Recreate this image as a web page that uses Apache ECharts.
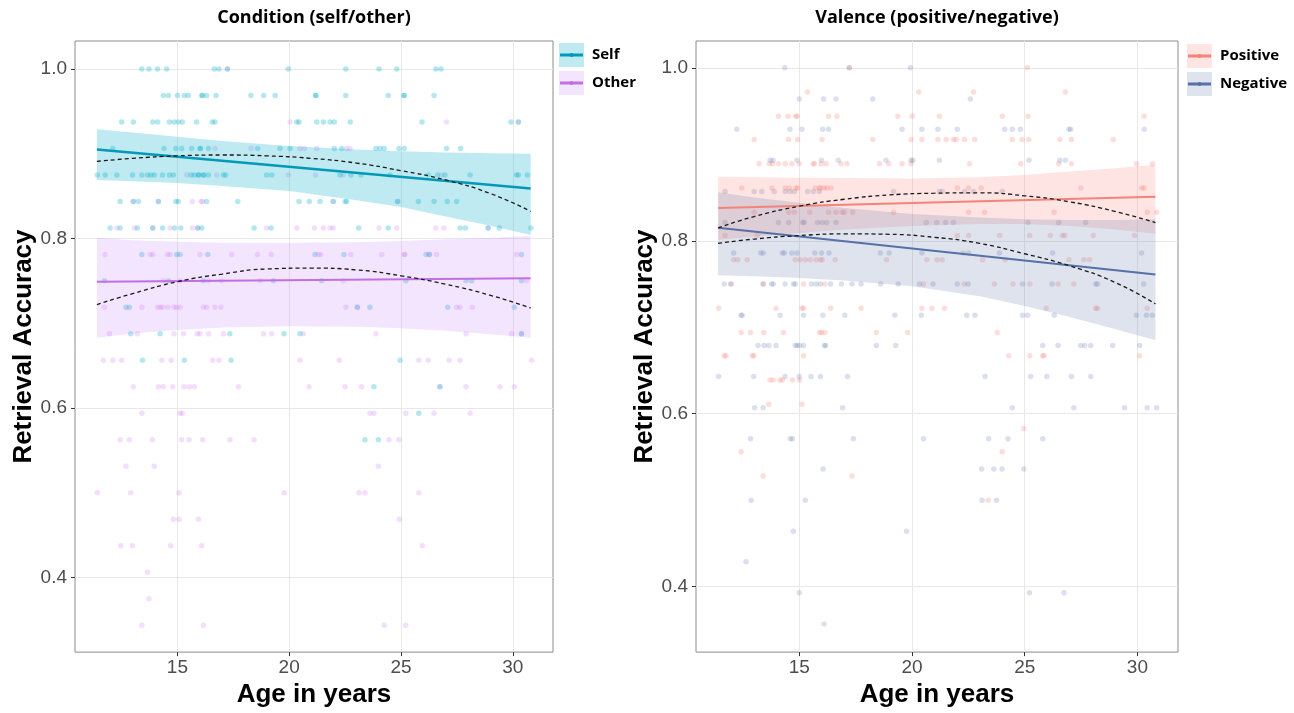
<!DOCTYPE html>
<html>
<head>
<meta charset="utf-8">
<script src="https://cdn.jsdelivr.net/npm/echarts@6/dist/echarts.min.js"></script>
<style>
html,body{margin:0;padding:0;background:#fff;}
#container{width:1294px;height:713px;}
</style>
</head>
<body>
<div id="container"></div>
<script>
// tick labels
var xTicks = [15, 20, 25, 30];
var yTicks = [0.4, 0.6, 0.8, 1.0];

// scatter rows: [accuracy, [ages...]]
var selfRows = [
  [1.0, [13.41, 13.73, 14.11, 14.52, 16.65, 16.86, 17.24, 19.96, 22.53, 24.02, 24.81, 26.56, 26.79]],
  [0.96875, [14.37, 14.6, 15.0, 15.31, 15.49, 16.09, 16.12, 16.31, 16.73, 18.29, 18.86, 19.37, 21.18, 21.2, 22.53, 24.43, 25.13, 25.15, 26.48]],
  [0.9375, [12.51, 13.03, 13.9, 14.12, 14.64, 14.85, 15.04, 15.22, 15.86, 16.56, 16.68, 20.34, 20.44, 21.23, 21.53, 21.83, 22.02, 22.73, 25.94, 29.92, 30.25]],
  [0.90625, [12.11, 14.4, 14.93, 15.19, 15.64, 16.01, 16.03, 16.39, 18.59, 19.59, 20.04, 22.02, 22.35, 23.88, 24.06, 24.25, 24.91, 25.15, 27.04, 27.67]],
  [0.875, [11.42, 11.77, 12.29, 12.99, 13.41, 13.67, 13.82, 13.97, 14.33, 14.64, 14.82, 15.61, 15.76, 15.94, 15.96, 16.16, 16.18, 16.39, 17.06, 17.16, 18.99, 19.22, 22.27, 22.76, 23.21, 24.51, 26.22, 26.64, 26.97, 28.09, 30.17, 30.25, 30.65]],
  [0.84375, [12.44, 13.03, 13.26, 14.15, 14.93, 15.04, 16.31, 17.7, 20.44, 20.9, 21.38, 21.97, 22.5, 22.57, 24.85, 25.78, 26.48, 27.07, 27.49]],
  [0.8125, [11.99, 12.44, 13.21, 13.9, 14.34, 14.87, 15.15, 15.91, 16.09, 18.43, 19.19, 23.11, 24.43, 27.65, 27.89, 28.9, 29.4, 30.81]],
  [0.78125, [13.41, 14.97, 15.12, 16.36, 21.15, 22.45, 26.12, 26.27, 30.39]],
  [0.75, [11.74, 14.6, 16.16, 19.29, 21.45, 25.22, 27.91, 28.16, 30.39]],
  [0.71875, [12.7, 12.85, 23.05, 23.61, 27.09, 30.07]],
  [0.6875, [12.91, 14.23, 17.35, 19.77, 20.48, 30.39]],
  [0.65625, [13.44, 15.31, 17.4, 24.96]],
  [0.625, [23.79, 26.74]],
  [0.59375, [25.8]],
  [0.5625, [23.39, 23.99]]
];
var otherRows = [
  [1.0, [17.24]],
  [0.9375, [20.04, 27.04, 30.25]],
  [0.90625, [16.68, 18.29, 20.48, 20.68, 21.23, 22.57, 22.72]],
  [0.875, [15.42, 16.76, 19.96, 21.18, 22.42, 26.82]],
  [0.84375, [13.03, 14.15, 15.67, 16.06, 16.12, 21.97, 24.85]],
  [0.8125, [12.29, 13.08, 13.9, 14.67, 15.67, 15.91, 18.99, 20.34, 21.13, 21.53, 21.83, 21.97, 24.02, 24.81, 26.56, 26.92, 28.9]],
  [0.78125, [11.77, 13.78, 13.9, 14.55, 14.67, 16.01, 17.43, 18.58, 19.19, 21.3, 21.41, 22.76, 24.14, 25.15, 25.17, 26.27, 26.59, 30.17]],
  [0.75, [14.37, 15.12, 16.39, 16.98, 18.7, 22.42, 30.62]],
  [0.71875, [11.74, 13.41, 14.11, 14.23, 14.34, 14.57, 14.85, 14.97, 15.12, 16.16, 16.31, 16.68, 16.95, 22.54, 23.05, 27.49, 27.64, 28.19]],
  [0.6875, [11.96, 13.21, 14.85, 15.27, 15.89, 16.01, 16.39, 17.06, 18.85, 19.22, 20.63, 23.88, 27.91, 29.95, 30.39]],
  [0.65625, [11.69, 12.11, 12.51, 14.3, 14.72, 16.58, 16.86, 20.48, 22.24, 25.8, 26.22, 27.15, 27.64, 30.84]],
  [0.625, [13.03, 14.15, 14.37, 14.79, 15.3, 15.54, 15.76, 17.73, 20.89, 22.5, 23.24, 26.74, 27.91, 29.43, 30.07]],
  [0.59375, [13.41, 15.12, 15.22, 23.61, 23.79, 25.22, 26.48, 28.09]],
  [0.5625, [12.44, 12.85, 13.88, 15.19, 15.52, 16.13, 17.35, 18.43, 24.46, 24.91]],
  [0.53125, [12.7, 13.96, 23.99]],
  [0.5, [11.42, 12.91, 15.07, 19.78, 23.12, 23.39, 25.8]],
  [0.46875, [14.82, 15.07, 15.94, 24.93]],
  [0.4375, [12.47, 12.99, 14.7, 16.09, 25.95]],
  [0.40625, [13.66]],
  [0.375, [13.73]],
  [0.34375, [13.41, 16.16, 24.25, 25.21]]
];
var positiveRows = [
  [1.0, [17.22, 25.12]],
  [0.972, [15.37, 20.3, 22.73, 26.81]],
  [0.944, [14.08, 14.5, 14.85, 14.9, 16.3, 16.67, 19.37, 20.01, 21.22, 24.01, 25.15, 30.3]],
  [0.917, [13.0, 14.53, 14.93, 16.01, 18.26, 19.96, 20.44, 21.15, 21.52, 21.84, 21.96, 22.33, 22.78, 24.45, 24.88, 25.18, 26.56, 27.07, 28.93]],
  [0.889, [13.22, 13.67, 13.81, 14.08, 14.38, 14.67, 15.0, 15.62, 15.67, 15.96, 16.19, 16.85, 17.12, 18.56, 18.97, 19.56, 19.96, 22.56, 24.82, 26.51, 27.07, 29.96, 30.67]],
  [0.861, [12.45, 13.79, 14.38, 14.56, 14.85, 14.93, 15.71, 15.89, 15.96, 16.11, 16.23, 16.41, 22.01, 22.51, 23.07, 27.49, 30.19, 30.29]],
  [0.833, [13.0, 14.53, 14.78, 15.47, 16.3, 16.63, 16.9, 17.0, 17.37, 19.18, 22.51, 23.22, 26.3, 30.44, 30.85]],
  [0.806, [11.71, 13.14, 22.01, 22.51, 23.89, 25.22, 26.14, 26.67, 26.78, 28.04, 29.87]],
  [0.778, [12.09, 12.27, 12.69, 14.82, 15.04, 15.27, 15.49, 15.75, 15.94, 16.02, 16.59, 18.87, 20.66, 21.11, 21.34, 23.13, 24.14, 26.96, 27.63, 27.88]],
  [0.75, [11.97, 13.4, 15.19, 16.14, 20.51, 22.31, 23.66, 24.48, 25.23, 26.48, 27.18]],
  [0.722, [11.42, 13.97, 15.12, 15.19, 16.39, 17.74, 20.44, 20.89, 21.44, 25.95, 28.15, 28.23, 30.43]],
  [0.694, [12.42, 12.84, 13.43, 14.3, 15.9, 15.99, 16.14, 18.42, 19.81, 23.78]],
  [0.667, [11.67, 11.75, 12.92, 12.99, 15.19, 24.29, 25.23, 25.8, 25.86, 30.1]],
  [0.639, [13.7, 13.85, 14.15, 14.25, 14.7, 15.01]],
  [0.611, [13.65, 15.12]],
  [0.583, [24.96]],
  [0.556, [12.42, 24.0]],
  [0.528, [13.4, 17.34]],
  [0.5, [23.38]]
];
var negativeRows = [
  [1.0, [14.36, 17.22, 19.93]],
  [0.964, [15.0, 16.08, 16.63, 18.26, 22.59]],
  [0.929, [12.23, 14.59, 15.12, 16.04, 16.3, 19.56, 20.44, 21.15, 22.01, 24.11, 24.45, 24.81, 26.96, 27.04, 30.3]],
  [0.893, [13.71, 13.84, 14.9, 15.99, 16.73, 18.85, 19.96, 20.04, 21.22, 25.19, 26.56, 26.81]],
  [0.857, [11.71, 13.0, 13.34, 13.89, 14.38, 14.59, 14.78, 15.37, 15.62, 15.89, 19.18, 21.22, 21.34, 22.33, 22.73, 24.01]],
  [0.821, [11.71, 14.08, 14.53, 15.15, 15.22, 15.81, 16.01, 16.21, 16.63, 20.63, 21.1, 21.49, 21.84, 25.15, 26.51, 27.7]],
  [0.786, [12.09, 13.29, 13.4, 14.25, 14.34, 14.67, 14.9, 15.69, 15.99, 16.32, 18.6, 18.99, 20.44, 22.27, 22.51, 23.88, 26.24, 30.18]],
  [0.75, [11.67, 11.97, 13.4, 13.77, 13.85, 14.37, 14.75, 14.82, 15.54, 15.75, 15.94, 16.39, 16.87, 17.34, 17.74, 18.61, 19.39, 20.33, 20.93, 22.01, 22.49, 24.9, 26.21, 28.15, 28.23, 30.28]],
  [0.714, [12.42, 12.47, 14.15, 15.19, 16.05, 17.02, 19.24, 20.41, 22.43, 22.79, 24.9, 25.13, 26.31, 29.95, 30.4, 30.66]],
  [0.679, [13.17, 13.44, 13.65, 13.97, 14.82, 14.9, 15.01, 15.19, 16.12, 16.17, 18.42, 19.28, 25.8, 26.48, 27.48, 27.66, 27.93, 28.9, 30.1]],
  [0.643, [11.42, 12.98, 14.37, 15.0, 15.52, 15.94, 17.14, 23.24, 25.26, 25.98, 27.07, 27.93]],
  [0.607, [13.02, 13.4, 16.92, 24.45, 27.18, 29.43, 30.43, 30.85]],
  [0.571, [12.84, 14.6, 14.7, 17.4, 20.51, 23.4, 24.26, 25.8]],
  [0.536, [16.06, 23.09, 23.63, 24.0, 24.96]],
  [0.5, [12.87, 15.27, 23.11, 23.75]],
  [0.464, [14.74, 19.76]],
  [0.429, [12.64]],
  [0.393, [15.0, 25.21, 26.74]],
  [0.357, [16.1]]
];

// linear fits (end points)
var fitAges = [11.4, 30.8];
var selfFit = [0.905, 0.859];
var otherFit = [0.749, 0.753];
var positiveFit = [0.838, 0.851];
var negativeFit = [0.815, 0.761];

// quadratic fits (dashed)
var curveAges = [11.4, 13, 15, 17, 19, 21, 23, 25, 27, 29, 30.8];
var selfQuad = [0.891, 0.8945, 0.8975, 0.8985, 0.8975, 0.8945, 0.889, 0.880, 0.869, 0.853, 0.832];
var otherQuad = [0.722, 0.735, 0.749, 0.758, 0.764, 0.765, 0.763, 0.756, 0.746, 0.733, 0.718];
var positiveQuad = [0.815, 0.828, 0.840, 0.848, 0.853, 0.855, 0.8555, 0.852, 0.845, 0.834, 0.821];
var negativeQuad = [0.797, 0.802, 0.806, 0.808, 0.8075, 0.804, 0.797, 0.785, 0.771, 0.752, 0.727];

// confidence bands
var bandAges = [11.4, 13, 15, 17, 20, 23, 25, 27, 29, 30.8];
var selfUpper = [0.929, 0.925, 0.920, 0.915, 0.909, 0.905, 0.903, 0.9015, 0.9005, 0.900];
var selfLower = [0.869, 0.8675, 0.8655, 0.862, 0.856, 0.845, 0.837, 0.826, 0.815, 0.804];
var otherUpper = [0.801, 0.798, 0.796, 0.795, 0.795, 0.7955, 0.797, 0.799, 0.801, 0.803];
var otherLower = [0.683, 0.688, 0.692, 0.695, 0.6965, 0.696, 0.694, 0.691, 0.687, 0.683];
var positiveUpper = [0.874, 0.8735, 0.873, 0.8725, 0.872, 0.8735, 0.876, 0.880, 0.884, 0.888];
var positiveLower = [0.801, 0.805, 0.809, 0.813, 0.817, 0.8195, 0.8195, 0.817, 0.813, 0.808];
var negativeUpper = [0.856, 0.850, 0.844, 0.838, 0.831, 0.827, 0.825, 0.824, 0.824, 0.825];
var negativeLower = [0.760, 0.759, 0.757, 0.754, 0.7475, 0.736, 0.7245, 0.712, 0.698, 0.685];

var myChart = echarts.init(document.getElementById('container'));

function rowsToPoints(rows) {
  var out = [];
  rows.forEach(function (r) {
    r[1].forEach(function (a) { out.push([a, r[0]]); });
  });
  return out;
}
function pairs(xs, ys) {
  return xs.map(function (x, i) { return [x, ys[i]]; });
}

function scatter(idx, rows, color) {
  return {
    type: 'scatter', xAxisIndex: idx, yAxisIndex: idx, z: 1, silent: true,
    symbolSize: 5.5, itemStyle: { color: color }, data: rowsToPoints(rows)
  };
}
function band(idx, up, lo, color) {
  return {
    type: 'custom', xAxisIndex: idx, yAxisIndex: idx, z: 2, silent: true,
    data: [[bandAges[0], up[0]]],
    renderItem: function (params, api) {
      var pts = [];
      for (var i = 0; i < bandAges.length; i++) pts.push(api.coord([bandAges[i], up[i]]));
      for (var j = bandAges.length - 1; j >= 0; j--) pts.push(api.coord([bandAges[j], lo[j]]));
      return { type: 'polygon', shape: { points: pts }, style: { fill: color } };
    }
  };
}
function fitLine(idx, vals, color, w) {
  return {
    type: 'line', xAxisIndex: idx, yAxisIndex: idx, z: 3, silent: true,
    showSymbol: false, data: pairs(fitAges, vals),
    lineStyle: { color: color, width: w }
  };
}
function quadLine(idx, vals) {
  return {
    type: 'line', xAxisIndex: idx, yAxisIndex: idx, z: 4, silent: true,
    showSymbol: false, smooth: true, data: pairs(curveAges, vals),
    lineStyle: { color: '#1a1a1a', width: 1.3, type: [4, 3] }
  };
}

var tickFont = { fontSize: 19, color: '#4d4d4d', fontFamily: 'Liberation Sans' };
var nameFont = { fontSize: 26, fontWeight: 'bold', color: '#000', fontFamily: 'Liberation Sans' };

function xAxis(idx) {
  return {
    gridIndex: idx, type: 'value', min: 10.42, max: 31.8,
    name: 'Age in years', nameLocation: 'middle', nameGap: 23, nameTextStyle: nameFont,
    axisLine: { show: false },
    axisTick: { show: true, length: 4, customValues: xTicks, lineStyle: { color: '#333' } },
    axisLabel: Object.assign({ customValues: xTicks, margin: 6 }, tickFont),
    splitLine: { show: true, lineStyle: { color: '#e8e8e8', width: 1 } }
  };
}
function yAxis(idx, min, max, gap) {
  return {
    gridIndex: idx, type: 'value', min: min, max: max,
    name: 'Retrieval Accuracy', nameLocation: 'middle', nameGap: gap, nameTextStyle: nameFont,
    axisLine: { show: false },
    axisTick: { show: true, length: 4, customValues: yTicks, lineStyle: { color: '#333' } },
    axisLabel: Object.assign({ customValues: yTicks, margin: 8,
      formatter: function (v) { return v.toFixed(1); } }, tickFont),
    splitLine: { show: true, lineStyle: { color: '#e8e8e8', width: 1 } }
  };
}

function legendKey(x, y, fill, line, label) {
  return [
    { type: 'rect', shape: { x: x, y: y, width: 25, height: 24 }, style: { fill: fill } },
    { type: 'line', shape: { x1: x + 1, y1: y + 12, x2: x + 24, y2: y + 12 }, style: { stroke: line, lineWidth: 3 } },
    { type: 'circle', shape: { cx: x + 12.5, cy: y + 12, r: 2 }, style: { fill: line } },
    { type: 'text', x: x + 33, y: y + 12, style: { text: label, fill: '#000',
      font: 'bold 15px "Open Sans"', textVerticalAlign: 'middle' } }
  ];
}
var titleFont = 'bold 18px "Open Sans"';

myChart.setOption({
  animation: false,
  backgroundColor: '#fff',
  grid: [
    { left: 75, top: 41, width: 478, height: 616, show: true, borderColor: '#8c8c8c', borderWidth: 1, backgroundColor: 'transparent' },
    { left: 696, top: 41, width: 482, height: 617, show: true, borderColor: '#8c8c8c', borderWidth: 1, backgroundColor: 'transparent' }
  ],
  xAxis: [xAxis(0), xAxis(1)],
  yAxis: [yAxis(0, 0.312, 1.033, 25), yAxis(1, 0.3244, 1.031, 28)],
  graphic: [
    { type: 'text', x: 314, y: 18, style: { text: 'Condition (self/other)', font: titleFont, fill: '#000', textAlign: 'center', textVerticalAlign: 'middle' } },
    { type: 'text', x: 937, y: 18, style: { text: 'Valence (positive/negative)', font: titleFont, fill: '#000', textAlign: 'center', textVerticalAlign: 'middle' } }
  ].concat(
    legendKey(559, 43, 'rgba(0,172,200,0.25)', '#0099b8', 'Self'),
    legendKey(559, 71, 'rgba(199,124,255,0.2)', '#c070e0', 'Other'),
    legendKey(1187, 44, 'rgba(248,118,109,0.2)', '#f4837a', 'Positive'),
    legendKey(1187, 72, 'rgba(90,115,170,0.2)', '#5670a8', 'Negative')
  ),
  series: [
    scatter(0, otherRows, 'rgba(200,110,240,0.28)'),
    scatter(0, selfRows, 'rgba(0,172,200,0.36)'),
    band(0, otherUpper, otherLower, 'rgba(199,124,255,0.2)'),
    band(0, selfUpper, selfLower, 'rgba(0,172,200,0.25)'),
    fitLine(0, otherFit, '#c070e0', 2),
    fitLine(0, selfFit, '#0099b8', 2.5),
    quadLine(0, selfQuad),
    quadLine(0, otherQuad),

    scatter(1, positiveRows, 'rgba(248,118,109,0.3)'),
    scatter(1, negativeRows, 'rgba(90,115,175,0.28)'),
    band(1, positiveUpper, positiveLower, 'rgba(248,118,109,0.2)'),
    band(1, negativeUpper, negativeLower, 'rgba(90,115,170,0.2)'),
    fitLine(1, positiveFit, '#f4837a', 2),
    fitLine(1, negativeFit, '#5670a8', 2),
    quadLine(1, positiveQuad),
    quadLine(1, negativeQuad)
  ]
});
</script>
</body>
</html>
